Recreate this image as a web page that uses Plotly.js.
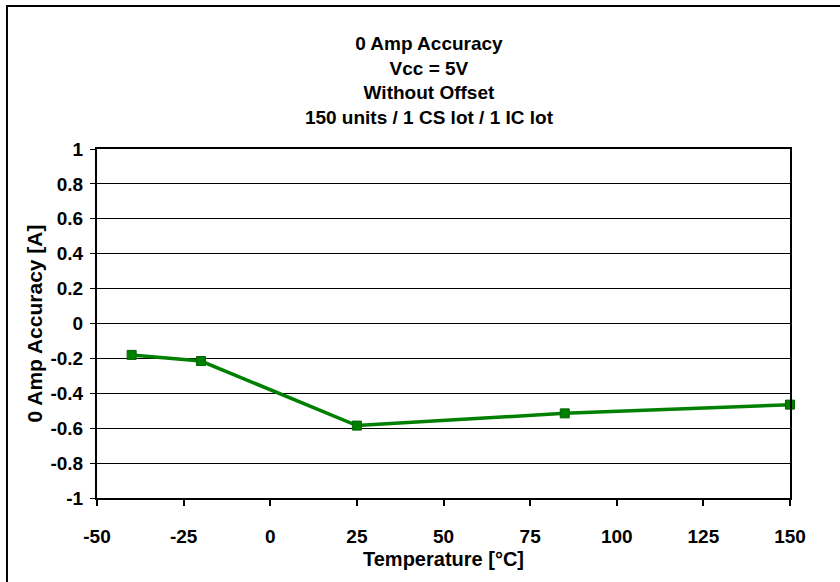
<!DOCTYPE html>
<html>
<head>
<meta charset="utf-8">
<script src="https://cdn.plot.ly/plotly-3.0.1.min.js"></script>
<style>html,body{margin:0;padding:0;background:#fff;}#chart{width:840px;height:582px;}</style>
</head>
<body>
<div id="chart"></div>
<script>
var temperatures = [-40, -20, 25, 85, 150];
var accuracy = [-0.18, -0.215, -0.585, -0.515, -0.465];
var xTickVals = [-50, -25, 0, 25, 50, 75, 100, 125, 150];
var xTickText = ['-50', '-25', '0', '25', '50', '75', '100', '125', '150'];
var yTickVals = [-1, -0.8, -0.6, -0.4, -0.2, 0, 0.2, 0.4, 0.6, 0.8, 1];
var yTickText = ['-1', '-0.8', '-0.6', '-0.4', '-0.2', '0', '0.2', '0.4', '0.6', '0.8', '1'];
var titleLines = ['0 Amp Accuracy', 'Vcc = 5V', 'Without Offset', '150 units / 1 CS lot / 1 IC lot'];

function bold(a) { return a.map(function (s) { return '<b>' + s + '</b>'; }); }

var font = 'Liberation Sans, Arial, sans-serif';
var trace = {
  x: temperatures, y: accuracy, type: 'scatter', mode: 'lines+markers',
  line: {color: '#008000', width: 3.5},
  marker: {symbol: 'square', size: 9, color: '#008000', line: {color: '#006400', width: 1}},
  showlegend: false, cliponaxis: false
};
var layout = {
  width: 840, height: 582,
  margin: {l: 97, r: 50, t: 149, b: 84},
  paper_bgcolor: '#ffffff', plot_bgcolor: '#ffffff',
  font: {family: font, color: '#000000'},
  title: {text: bold(titleLines).join('<br>'), x: 0.479, xref: 'paper', xanchor: 'center', y: 0.914, yanchor: 'top', yref: 'container',
          font: {family: font, size: 19, color: '#000'}},
  xaxis: {range: [-50, 150], tickvals: xTickVals, ticktext: bold(xTickText), showgrid: false, zeroline: false,
          showline: true, linecolor: '#000', linewidth: 2, mirror: true,
          ticks: 'outside', ticklen: 6, tickwidth: 2, tickcolor: '#000', ticklabelstandoff: 14,
          tickfont: {family: font, size: 19, color: '#000'},
          title: {text: '<b>Temperature [°C]</b>', font: {family: font, size: 20, color: '#000'}, standoff: 6}},
  yaxis: {range: [-1, 1], tickvals: yTickVals, ticktext: bold(yTickText), showgrid: true, gridcolor: '#000', gridwidth: 1,
          zeroline: false, showline: true, linecolor: '#000', linewidth: 2, mirror: true,
          ticks: 'outside', ticklen: 5, tickwidth: 1, tickcolor: '#000', ticklabelstandoff: 3,
          tickfont: {family: font, size: 19, color: '#000'},
          title: {text: '<b>0 Amp Accuracy [A]</b>', font: {family: font, size: 21, color: '#000'}, standoff: 2}},
  shapes: [{type: 'rect', xref: 'paper', yref: 'paper', x0: -0.1299, x1: 1.0794, y0: -0.2636, y1: 1.4097,
            line: {color: '#000', width: 2}, fillcolor: 'rgba(0,0,0,0)', layer: 'below'}]
};
Plotly.newPlot('chart', [trace], layout, {displayModeBar: false, staticPlot: true});
</script>
</body>
</html>
